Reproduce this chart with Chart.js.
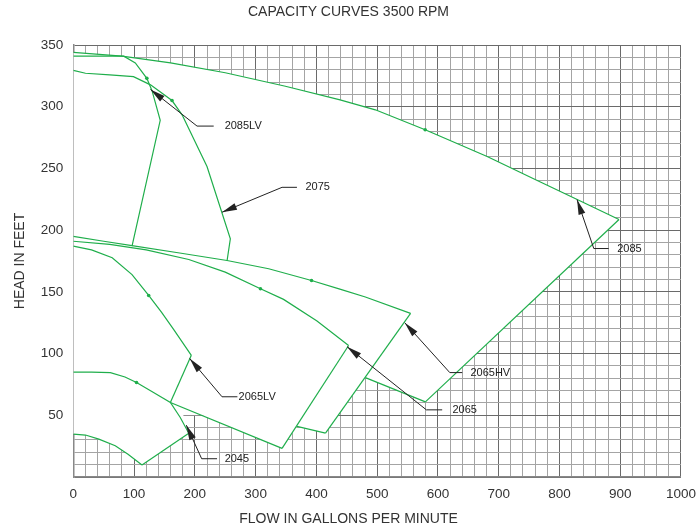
<!DOCTYPE html>
<html>
<head>
<meta charset="utf-8">
<title>Capacity curves 3500 RPM</title>
<script src="https://cdn.jsdelivr.net/npm/chart.js@4.4.1/dist/chart.umd.min.js"></script>
<style>
  body { margin: 0; background: #fff; }
  #wrap { width: 697px; height: 532px; }
</style>
</head>
<body>
<div id="wrap"><canvas id="pump-chart"></canvas></div>
<script>
// curve points: [flow gpm, head ft]
const top2085 = [[0, 344], [80, 341], [160, 335.5], [250, 327.5], [349, 316.6], [439, 305.6], [497, 297.5], [579, 281.3], [681, 259.7], [760, 241], [824, 226], [898, 208.6]];
const edge2085 = [[898, 208.6], [579.4, 60.9]];
const bottom2085 = [[579.4, 60.9], [480.6, 80.5]];

const top2065HV = [[0, 195], [50, 191], [96.5, 187.5], [175, 181.5], [253, 175.4], [321.5, 168.7], [392, 159.2], [440, 152], [480.6, 145.8], [555, 132.6]];
const edge2065HV = [[555, 132.6], [415, 35.6]];
const bottom2065HV = [[415, 35.6], [368, 41]];

const top2065 = [[0, 191], [60, 188.5], [120, 184], [190, 176.2], [250, 166], [308, 152.5], [346, 143.9], [401, 126.4], [453, 106.5]];
const edge2065 = [[453, 106.5], [343.5, 23.2]];
const bottom2065 = [[343.5, 23.2], [159.7, 60.4]];

const top2065LV = [[0, 187], [30, 184], [64, 177.6], [96.6, 164], [124, 147.1], [145, 133.5], [165, 119.6], [194.2, 98.6]];
const edge2065LV = [[194.2, 98.6], [159.7, 60.4]];

const top2045 = [[0, 85], [30, 85], [61, 84.6], [85, 81], [104, 76.6], [132, 68.5], [159.7, 60.4], [176, 48.2], [190, 35.5]];
const bottom2045 = [[0, 34.8], [20, 34], [42, 30.7], [69, 25.3], [90, 18.5], [113, 9.7]];
const edge2045 = [[113, 9.7], [190, 35.5]];

const top2075 = [[0, 329.5], [20, 327.1], [60, 325.8], [99, 324.4], [127, 317.7], [162.4, 305], [179, 293.4]];
const edge2075 = [[179, 293.4], [220, 251.6], [258.4, 193], [253, 175.2]];

const curve2085LV = [[0, 341], [83, 341], [102, 335.5], [121, 323], [129.5, 313], [143, 289], [96.6, 187]];

const markerPoints = [[579, 281.3], [121, 323], [162.4, 305], [392, 159.2], [308, 152.5], [124, 147.1], [104, 76.6]];

// where the grid stops being covered between the 2065 and 2045 lines
const maskNotch = [[212, 50], [181, 50], [186, 40]];

const calloutLabels = ["2085LV", "2075", "2085", "2065HV", "2065", "2065LV", "2045"];
const calloutTips = [[127, 314], [244.7, 214.5], [829, 224.7], [545.4, 125], [450.5, 105.6], [191.5, 96], [186, 42]];
const calloutElbows = [[203.6, 284.3], [343.5, 234.7], [856.5, 185.1], [619.5, 84.6], [581, 54.4], [244.7, 65], [211.2, 14.8]];
const calloutShelfEnds = [231, 368, 881, 640, 607, 270, 236.5];
const calloutTextAt = [249, 382, 895, 653.5, 624, 272, 249];

const green = "#1fae4b";

function pts(arr) {
  return arr.map((p) => ({ x: p[0], y: p[1] }));
}

// white area under all curves, hides the grid
const maskOutline = [].concat(
  top2085,
  edge2085.slice(1),
  bottom2085.slice(1),
  edge2065HV.slice(1),
  bottom2065HV.slice(1),
  edge2065.slice(1),
  maskNotch,
  edge2045.slice().reverse(),
  bottom2045.slice().reverse().slice(1)
);

const curveList = [
  top2085, edge2085, bottom2085,
  top2065HV, edge2065HV, bottom2065HV,
  top2065, edge2065, bottom2065,
  top2065LV, edge2065LV,
  top2045, bottom2045, edge2045,
  top2075, edge2075,
  curve2085LV,
];

const datasets = curveList.map((c) => ({
  data: pts(c),
  showLine: true,
  borderColor: green,
  borderWidth: 1.2,
  pointRadius: 0,
  fill: false,
  order: 1,
}));

datasets.push({
  data: pts(markerPoints),
  showLine: false,
  pointRadius: 1.8,
  pointBorderWidth: 0,
  pointBackgroundColor: green,
  order: 0,
});

datasets.push({
  data: pts(maskOutline),
  showLine: true,
  borderWidth: 0,
  borderColor: "rgba(255,255,255,0)",
  backgroundColor: "#ffffff",
  pointRadius: 0,
  fill: "shape",
  order: 5,
});

const calloutPlugin = {
  id: "callouts",
  afterDatasetsDraw(chart) {
    const { ctx } = chart;
    const xs = chart.scales.x;
    const ys = chart.scales.y;
    ctx.save();
    ctx.strokeStyle = "#222";
    ctx.fillStyle = "#222";
    ctx.lineWidth = 1;
    ctx.font = "11px 'Liberation Sans', Arial, sans-serif";
    ctx.textBaseline = "middle";
    ctx.textAlign = "left";
    calloutLabels.forEach((label, i) => {
      const tx = xs.getPixelForValue(calloutTips[i][0]);
      const ty = ys.getPixelForValue(calloutTips[i][1]);
      const ex = xs.getPixelForValue(calloutElbows[i][0]);
      const ey = ys.getPixelForValue(calloutElbows[i][1]);
      const sx = xs.getPixelForValue(calloutShelfEnds[i]);
      ctx.beginPath();
      ctx.moveTo(tx, ty);
      ctx.lineTo(ex, ey);
      ctx.lineTo(sx, ey);
      ctx.stroke();
      // arrow head
      const a = Math.atan2(ty - ey, tx - ex);
      const len = 15, half = 3.5;
      const bx = tx - len * Math.cos(a);
      const by = ty - len * Math.sin(a);
      ctx.beginPath();
      ctx.moveTo(tx, ty);
      ctx.lineTo(bx + half * Math.sin(a), by - half * Math.cos(a));
      ctx.lineTo(bx - half * Math.sin(a), by + half * Math.cos(a));
      ctx.closePath();
      ctx.fill();
      ctx.fillText(label, xs.getPixelForValue(calloutTextAt[i]), ey);
    });
    ctx.restore();
  },
};

Chart.defaults.font.family = "'Liberation Sans', Arial, sans-serif";
Chart.defaults.color = "#333";

const ctx = document.getElementById("pump-chart").getContext("2d");

const myChart = new Chart(ctx, {
  type: "scatter",
  data: { datasets: datasets },
  options: {
    responsive: true,
    maintainAspectRatio: false,
    animation: false,
    layout: { padding: { left: 2, right: 2, top: 0, bottom: 0 } },
    plugins: {
      legend: { display: false },
      tooltip: { enabled: false },
      title: {
        display: true,
        text: "CAPACITY CURVES 3500 RPM",
        font: { size: 14, weight: "normal" },
        color: "#333",
        padding: { top: 3.6, bottom: 24.6 },
      },
      subtitle: {
        display: true,
        position: "bottom",
        text: "FLOW IN GALLONS PER MINUTE",
        font: { size: 14, weight: "normal" },
        color: "#333",
        padding: { top: 7.4, bottom: 4.6 },
      },
    },
    scales: {
      x: {
        type: "linear",
        min: 0,
        max: 1000,
        ticks: {
          stepSize: 20,
          autoSkip: false,
          maxRotation: 0,
          padding: 1,
          font: { size: 13.5 },
          color: "#333",
          callback: (v) => (Math.round(v) % 100 === 0 ? v : ""),
        },
        grid: {
          drawTicks: true,
          tickLength: 8,
          tickColor: "rgba(0,0,0,0)",
          lineWidth: 1,
          color: (c) => (c.tick && Math.round(c.tick.value) % 100 === 0 ? "#6a6a6a" : "#a4a4a4"),
        },
        border: { color: "#888", width: 1.5 },
      },
      y: {
        type: "linear",
        min: 0,
        max: 350,
        ticks: {
          stepSize: 10,
          autoSkip: false,
          padding: 10,
          font: { size: 13.5 },
          color: "#333",
          callback: (v) => (Math.round(v) % 50 === 0 && v > 0 ? v : ""),
        },
        grid: {
          drawTicks: false,
          tickLength: 0,
          lineWidth: 1,
          color: (c) => (c.tick && Math.round(c.tick.value) % 50 === 0 ? "#6a6a6a" : "#a4a4a4"),
        },
        border: { color: "#888", width: 1.5 },
        title: {
          display: true,
          text: "HEAD IN FEET",
          font: { size: 14 },
          color: "#333",
          padding: { top: 10, bottom: 2 },
        },
      },
    },
  },
  plugins: [calloutPlugin],
});
</script>
</body>
</html>
